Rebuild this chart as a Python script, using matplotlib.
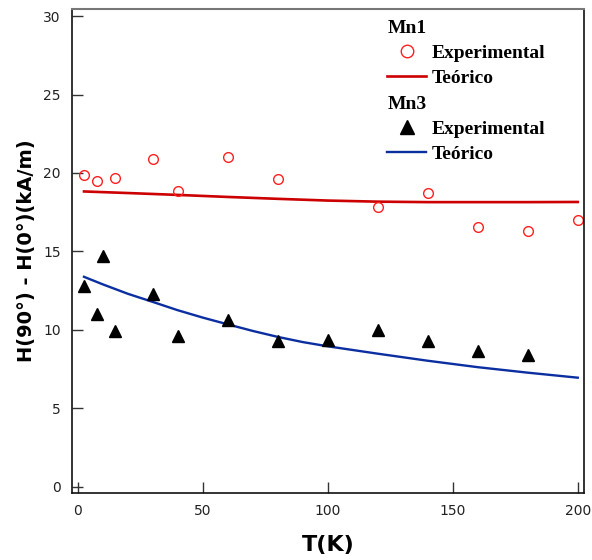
import matplotlib.pyplot as plt
from matplotlib.lines import Line2D
from matplotlib.font_manager import FontProperties

# Mn1 data
t_mn1_exp = [2.5, 7.5, 15, 30, 40, 60, 80, 120, 140, 160, 180, 200]
h_mn1_exp = [19.9, 19.47, 19.68, 20.9, 18.85, 21.0, 19.64, 17.83, 18.7, 16.57, 16.3, 17.0]
t_mn1_teo = [2.5, 20, 40, 60, 80, 100, 120, 140, 160, 180, 200]
h_mn1_teo = [18.82, 18.72, 18.6, 18.47, 18.35, 18.24, 18.17, 18.14, 18.14, 18.14, 18.15]

# Mn3 data
t_mn3_exp = [2.5, 7.5, 10, 15, 30, 40, 60, 80, 100, 120, 140, 160, 180]
h_mn3_exp = [12.8, 11.0, 14.68, 9.94, 12.3, 9.62, 10.6, 9.26, 9.36, 9.96, 9.32, 8.62, 8.4]
t_mn3_teo = [2.5, 10, 20, 30, 40, 50, 60, 70, 80, 90, 100, 120, 140, 160, 180, 200]
h_mn3_teo = [13.38, 12.9, 12.3, 11.78, 11.25, 10.78, 10.35, 9.93, 9.55, 9.22, 8.95,
             8.48, 8.03, 7.62, 7.27, 6.95]

red = '#cc0000'
blue = '#0b2ea0'

fig = plt.figure(figsize=(5.92, 5.60), dpi=100)
ax = fig.add_axes([72/592, 1 - 493/560, 512/592, 484/560])

ax.plot(t_mn1_teo, h_mn1_teo, color=red, lw=1.9)
ax.plot(t_mn1_exp, h_mn1_exp, 'o', ms=7, mfc='none', mec='#ff2020', mew=1.0)
ax.plot(t_mn3_teo, h_mn3_teo, color=blue, lw=1.7)
ax.plot(t_mn3_exp, h_mn3_exp, '^', ms=8, color='black')

ax.set_xlim(-2.3, 202.5)
ax.set_ylim(-0.4, 30.45)
ax.set_xticks([0, 50, 100, 150, 200])
ax.set_yticks([0, 5, 10, 15, 20, 25, 30])
ax.tick_params(direction='in', length=8, width=1, color='#333333',
               labelsize=10, labelcolor='#222222', pad=8)

for side in ['left', 'right', 'bottom']:
    ax.spines[side].set_color('#111111')
    ax.spines[side].set_linewidth(1.2)
ax.spines['top'].set_color('#777777')
ax.spines['top'].set_linewidth(1.5)

ax.set_xlabel('T(K)', fontsize=16, fontweight='bold', labelpad=12)
ax.set_ylabel('H(90°) - H(0°)(kA/m)', fontsize=14, fontweight='bold', labelpad=5)

lp = FontProperties(family='Liberation Serif', weight='bold', size=14)
common = dict(frameon=False, prop=lp, title_fontproperties=lp, alignment='left',
              loc='upper left', handlelength=2.0, handletextpad=0.3,
              labelspacing=0.38, borderaxespad=0, borderpad=0.18)

h1 = [Line2D([], [], ls='none', marker='o', ms=9, mfc='none', mec='#ff2020', mew=1.0),
      Line2D([], [], color=red, lw=1.9)]
leg1 = ax.legend(h1, ['Experimental', 'Teórico'], title='Mn1',
                 bbox_to_anchor=(0.609, 0.985), **common)
ax.add_artist(leg1)

h2 = [Line2D([], [], ls='none', marker='^', ms=10, color='black'),
      Line2D([], [], color=blue, lw=1.7)]
ax.legend(h2, ['Experimental', 'Teórico'], title='Mn3',
          bbox_to_anchor=(0.609, 0.828), **common)

fig.savefig('out.png', dpi=100)
